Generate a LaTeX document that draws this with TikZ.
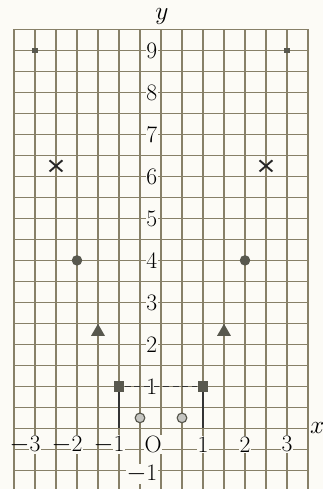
\documentclass[tikz,border=0pt]{standalone}
\usetikzlibrary{shapes.geometric,shapes.misc}
\definecolor{gridc}{RGB}{135,128,104}
\definecolor{markc}{RGB}{88,88,78}
\definecolor{paper}{RGB}{252,251,246}
\begin{document}
\begin{tikzpicture}[x=1cm,y=1cm,
  lbl/.style={fill=paper,inner sep=0.6pt,font=\fontsize{16}{18}\selectfont},
  smalldot/.style={rectangle,fill=markc,minimum size=0.13cm,inner sep=0pt},
  bigdot/.style={circle,fill=markc,minimum size=0.25cm,inner sep=0pt},
  tri/.style={regular polygon,regular polygon sides=3,fill=markc,minimum size=0.38cm,inner sep=0pt},
  sq/.style={rectangle,fill=markc,minimum size=0.26cm,inner sep=0pt},
  ring/.style={circle,draw=markc,fill=markc!35,line width=0.8pt,minimum size=0.23cm,inner sep=0pt},
  crossmark/.style={cross out,draw=black!85,line width=1.3pt,minimum width=0.26cm,minimum height=0.22cm,inner sep=0pt}
]
\useasboundingbox[fill=paper] (-3.833,-1.443) rectangle (3.857,10.2);
\draw[gridc,line width=0.85pt] (-3.5,-1.5) grid[step=0.5] (3.5,9.5);
% axis labels
\node[font=\fontsize{16}{18}\selectfont] (ylab) at (0.02,9.8) {$y$};
\node[font=\fontsize{16}{18}\selectfont] (xlab) at (3.72,0.02) {$x$};
% y numbers
\foreach \k in {1,...,9} {
  \node[lbl,anchor=east] (y\k) at (-0.06,\k) {\k};
}
\node[lbl,anchor=east] (ym1) at (-0.06,-1.08) {$-$1};
% x numbers
\node[lbl] (xm3) at (-3,-0.38) {\llap{$-$}3};
\node[lbl] (xm2) at (-2,-0.38) {\llap{$-$}2};
\node[lbl] (xm1) at (-1,-0.38) {\llap{$-$}1};
\node[lbl] (orig) at (-0.19,-0.38) {O};
\node[lbl] (x1) at (1,-0.38) {1};
\node[lbl] (x2) at (2,-0.38) {2};
\node[lbl] (x3) at (3,-0.38) {3};
% connectors at squares
\coordinate (fL) at (-1,0);
\coordinate (fR) at (1,0);
\node[sq] (sqL) at (-1,1) {};
\node[sq] (sqR) at (1,1) {};
\draw[black!80,line width=0.9pt,dash pattern=on 4pt off 2.5pt] (sqL) -- (sqR);
\draw[black!80,line width=1pt] (sqL) -- (fL);
\draw[black!80,line width=1pt] (sqR) -- (fR);
% points
\node[smalldot] (p1) at (-3,9) {};
\node[smalldot] (p2) at (3,9) {};
\node[crossmark] (c1) at (-2.5,6.25) {};
\node[crossmark] (c2) at (2.5,6.25) {};
\node[bigdot] (d1) at (-2,4) {};
\node[bigdot] (d2) at (2,4) {};
\node[tri] (t1) at (-1.5,2.3) {};
\node[tri] (t2) at (1.5,2.3) {};
\node[ring] (r1) at (-0.5,0.25) {};
\node[ring] (r2) at (0.5,0.25) {};
\end{tikzpicture}
\end{document}
